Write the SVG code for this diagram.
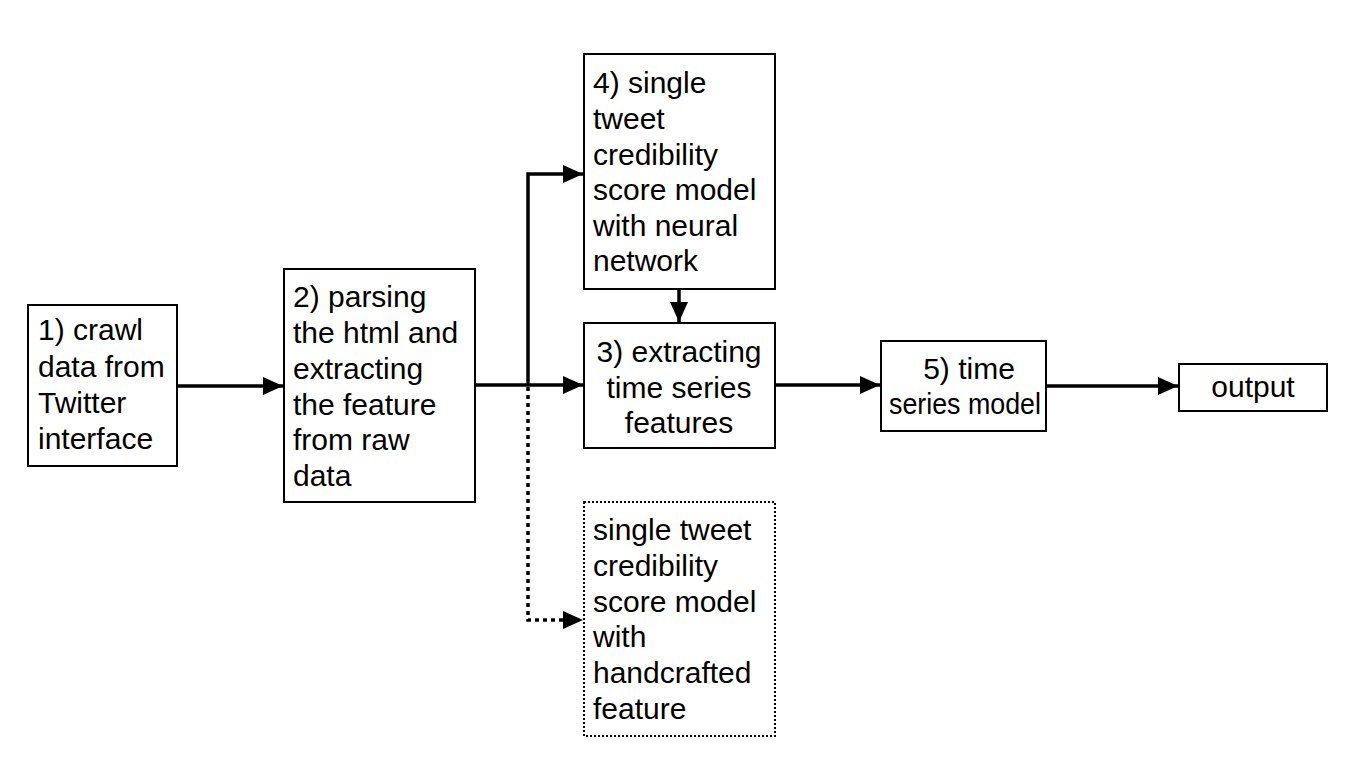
<svg xmlns="http://www.w3.org/2000/svg" width="1360" height="779" viewBox="0 0 1360 779">
<style>
.box{fill:#fff;stroke:#000;stroke-width:2}
.dot{fill:#fff;stroke:#000;stroke-width:2;stroke-dasharray:2 2}
text{font-family:"Liberation Sans",Arial,sans-serif;font-size:30px;fill:#000}
.c{text-anchor:middle}
.ln{fill:none;stroke:#000;stroke-width:3.5}
.dl{fill:none;stroke:#000;stroke-width:3.5;stroke-dasharray:4 4}
</style>
<defs>
<marker id="ah" markerUnits="userSpaceOnUse" markerWidth="22" markerHeight="20" refX="20" refY="9" orient="auto">
<path d="M0,0 L20,9 L0,18 Z" fill="#000"/>
</marker>
</defs>
<g id="connectors">
<line class="ln" x1="177" y1="386" x2="283" y2="386" marker-end="url(#ah)"/>
<line class="ln" x1="475" y1="385" x2="583" y2="385" marker-end="url(#ah)"/>
<polyline class="ln" points="528,385 528,174 583,174" marker-end="url(#ah)"/>
<polyline class="dl" points="528,387 528,620 583,620" marker-end="url(#ah)"/>
<line class="ln" x1="679" y1="272" x2="679" y2="322" marker-end="url(#ah)"/>
<line class="ln" x1="775" y1="385" x2="880" y2="385" marker-end="url(#ah)"/>
<line class="ln" x1="1046" y1="386" x2="1178" y2="386" marker-end="url(#ah)"/>
</g>
<g id="n1">
<rect class="box" x="28" y="305" width="149" height="161"/>
<text x="38" y="340">1) crawl</text>
<text x="38" y="377">data from</text>
<text x="38" y="413">Twitter</text>
<text x="38" y="449">interface</text>
</g>
<g id="n2">
<rect class="box" x="284" y="269" width="191" height="233"/>
<text x="293" y="307">2) parsing</text>
<text x="293" y="343">the html and</text>
<text x="293" y="379">extracting</text>
<text x="293" y="415">the feature</text>
<text x="293" y="450">from raw</text>
<text x="293" y="486">data</text>
</g>
<g id="n4">
<rect class="box" x="584" y="54" width="191" height="235"/>
<text x="593" y="93">4) single</text>
<text x="593" y="129">tweet</text>
<text x="593" y="165">credibility</text>
<text x="593" y="200">score model</text>
<text x="593" y="236">with neural</text>
<text x="593" y="271">network</text>
</g>
<g id="n3">
<rect class="box" x="584" y="323" width="191" height="125"/>
<text class="c" x="679" y="362">3) extracting</text>
<text class="c" x="679" y="398">time series</text>
<text class="c" x="679" y="433">features</text>
</g>
<g id="n6">
<rect class="dot" x="584" y="502" width="191" height="234"/>
<text x="593" y="540">single tweet</text>
<text x="593" y="576">credibility</text>
<text x="593" y="612">score model</text>
<text x="593" y="647">with</text>
<text x="593" y="683">handcrafted</text>
<text x="593" y="719">feature</text>
</g>
<g id="n5">
<rect class="box" x="881" y="341" width="165" height="90"/>
<text class="c" x="969" y="379">5) time</text>
<text x="889" y="414" textLength="152" lengthAdjust="spacingAndGlyphs">series model</text>
</g>
<g id="n7">
<rect class="box" x="1179" y="364" width="148" height="47"/>
<text class="c" x="1253" y="397">output</text>
</g>
</svg>
